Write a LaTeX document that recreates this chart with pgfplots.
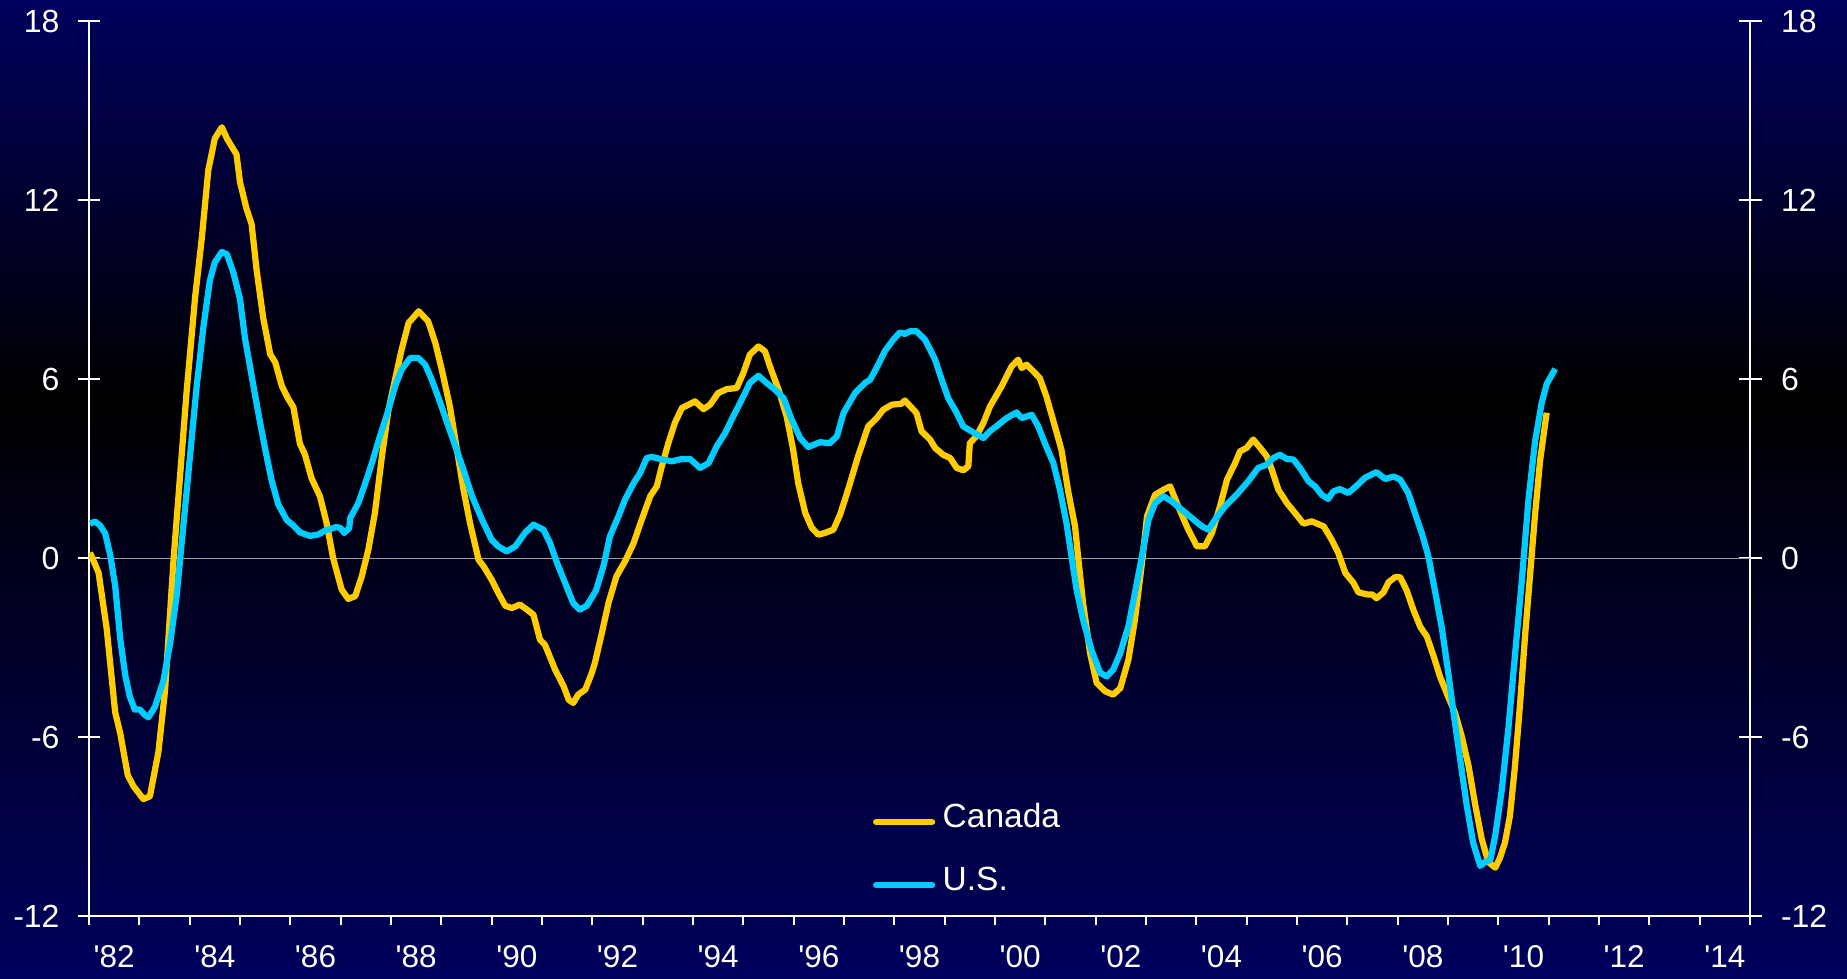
\documentclass[border=0pt]{standalone}
\usepackage{fontspec}
\setmainfont{Liberation Sans}[Ligatures=TeXOff]
\usepackage{pgfplots}
\pgfplotsset{compat=1.18}
\definecolor{navybg}{RGB}{0,0,94}
\definecolor{cangold}{RGB}{255,204,0}
\definecolor{uscyan}{RGB}{0,204,255}
\definecolor{zerogray}{RGB}{160,160,160}

\pgfplotstableread{
x y
1982.02 0.18
1982.19 -0.49
1982.35 -2.35
1982.52 -5.17
1982.62 -5.87
1982.77 -7.28
1982.88 -7.64
1983.08 -8.08
1983.21 -7.99
1983.38 -6.49
1983.51 -4.46
1983.68 -0.05
1983.81 2.77
1983.94 5.59
1984.11 8.77
1984.24 10.7
1984.37 13.0
1984.50 14.06
1984.64 14.44
1984.74 14.06
1984.93 13.53
1985.00 12.6
1985.13 11.7
1985.23 11.2
1985.33 9.65
1985.46 8.06
1985.60 6.83
1985.70 6.56
1985.83 5.77
1985.96 5.33
1986.06 5.06
1986.19 3.83
1986.29 3.47
1986.42 2.68
1986.59 2.06
1986.72 1.18
1986.85 0.0
1987.02 -1.06
1987.15 -1.37
1987.29 -1.28
1987.42 -0.61
1987.55 0.28
1987.68 1.51
1987.82 3.41
1987.95 4.97
1988.08 5.98
1988.21 6.98
1988.35 7.88
1988.55 8.27
1988.74 7.93
1988.88 7.21
1989.01 6.31
1989.17 5.08
1989.31 3.63
1989.44 2.29
1989.57 1.17
1989.74 -0.06
1989.84 -0.28
1990.00 -0.73
1990.13 -1.17
1990.27 -1.60
1990.40 -1.68
1990.56 -1.56
1990.70 -1.73
1990.83 -1.90
1990.96 -2.74
1991.06 -2.91
1991.26 -3.74
1991.43 -4.30
1991.53 -4.75
1991.62 -4.86
1991.72 -4.58
1991.86 -4.41
1991.99 -3.85
1992.05 -3.52
1992.19 -2.51
1992.32 -1.51
1992.48 -0.61
1992.65 -0.11
1992.82 0.50
1992.98 1.28
1993.15 2.07
1993.28 2.40
1993.38 3.07
1993.51 3.85
1993.64 4.53
1993.78 5.03
1993.91 5.14
1994.04 5.25
1994.21 4.99
1994.34 5.14
1994.50 5.53
1994.67 5.66
1994.87 5.70
1995.00 6.20
1995.13 6.82
1995.30 7.09
1995.43 6.93
1995.53 6.42
1995.70 5.64
1995.86 4.75
1995.99 3.63
1996.09 2.51
1996.23 1.51
1996.36 1.01
1996.49 0.78
1996.62 0.84
1996.79 0.95
1996.92 1.45
1997.02 1.96
1997.12 2.51
1997.28 3.41
1997.48 4.41
1997.65 4.69
1997.78 4.97
1997.95 5.14
1998.14 5.17
1998.21 5.28
1998.44 4.86
1998.54 4.25
1998.71 3.97
1998.81 3.69
1998.97 3.46
1999.11 3.35
1999.24 3.02
1999.37 2.94
1999.47 3.07
1999.50 3.85
1999.63 4.08
1999.77 4.53
1999.90 5.08
2000.13 5.75
2000.33 6.42
2000.46 6.65
2000.53 6.37
2000.63 6.48
2000.76 6.26
2000.89 6.03
2001.02 5.42
2001.19 4.41
2001.32 3.63
2001.46 2.18
2001.59 1.06
2001.65 0.06
2001.75 -1.51
2001.89 -3.2
2002.02 -4.19
2002.19 -4.47
2002.35 -4.58
2002.49 -4.36
2002.65 -3.41
2002.78 -2.07
2002.92 -0.17
2003.02 1.40
2003.18 2.12
2003.35 2.29
2003.48 2.40
2003.64 1.73
2003.81 1.06
2004.01 0.39
2004.17 0.39
2004.31 0.84
2004.47 1.73
2004.61 2.63
2004.77 3.18
2004.87 3.58
2005.00 3.69
2005.13 3.97
2005.27 3.69
2005.40 3.41
2005.50 2.96
2005.63 2.29
2005.80 1.84
2005.96 1.51
2006.13 1.15
2006.29 1.23
2006.53 1.06
2006.69 0.61
2006.82 0.17
2006.96 -0.50
2007.12 -0.83
2007.22 -1.15
2007.39 -1.22
2007.49 -1.22
2007.58 -1.35
2007.72 -1.15
2007.82 -0.81
2007.95 -0.64
2008.05 -0.64
2008.18 -1.09
2008.31 -1.73
2008.45 -2.31
2008.58 -2.63
2008.71 -3.27
2008.84 -3.97
2009.01 -4.68
2009.14 -5.19
2009.27 -5.96
2009.41 -6.98
2009.54 -8.27
2009.67 -9.42
2009.80 -10.19
2009.94 -10.38
2010.03 -10.06
2010.13 -9.55
2010.23 -8.65
2010.33 -6.98
2010.43 -4.93
2010.53 -2.63
2010.63 -0.58
2010.73 1.47
2010.83 3.27
2010.96 4.87
}\canada

\pgfplotstableread{
x y
1982.02 1.15
1982.12 1.22
1982.22 1.09
1982.32 0.83
1982.42 0.12
1982.52 -0.93
1982.62 -2.70
1982.72 -3.93
1982.81 -4.64
1982.91 -5.08
1983.01 -5.08
1983.11 -5.26
1983.18 -5.34
1983.31 -4.99
1983.48 -4.11
1983.61 -2.87
1983.74 -1.29
1983.87 1.0
1984.01 3.47
1984.14 5.77
1984.27 7.7
1984.40 9.29
1984.50 9.91
1984.64 10.26
1984.74 10.18
1984.87 9.56
1985.00 8.68
1985.10 7.35
1985.23 6.12
1985.36 4.89
1985.50 3.65
1985.63 2.59
1985.76 1.80
1985.93 1.27
1986.06 1.09
1986.19 0.86
1986.39 0.74
1986.56 0.79
1986.69 0.92
1986.92 1.04
1987.00 1.0
1987.07 0.84
1987.17 1.0
1987.19 1.34
1987.35 1.84
1987.49 2.51
1987.62 3.18
1987.78 4.08
1987.95 4.97
1988.08 5.75
1988.21 6.31
1988.38 6.70
1988.55 6.70
1988.68 6.48
1988.81 5.98
1988.98 5.20
1989.14 4.41
1989.28 3.74
1989.44 2.96
1989.61 2.07
1989.81 1.28
1990.00 0.61
1990.13 0.39
1990.30 0.22
1990.47 0.39
1990.66 0.84
1990.83 1.12
1991.03 0.95
1991.16 0.50
1991.30 -0.17
1991.46 -0.84
1991.62 -1.51
1991.75 -1.73
1991.89 -1.60
1992.07 -1.10
1992.22 -0.28
1992.35 0.73
1992.52 1.40
1992.65 1.96
1992.82 2.51
1992.95 2.85
1993.08 3.35
1993.18 3.39
1993.35 3.32
1993.58 3.24
1993.78 3.32
1993.94 3.32
1994.14 3.02
1994.31 3.18
1994.47 3.74
1994.64 4.19
1994.80 4.75
1994.97 5.31
1995.13 5.87
1995.30 6.11
1995.46 5.87
1995.63 5.64
1995.80 5.36
1995.96 4.64
1996.13 4.02
1996.29 3.72
1996.52 3.88
1996.72 3.85
1996.86 4.08
1996.99 4.86
1997.22 5.53
1997.42 5.87
1997.52 5.98
1997.68 6.48
1997.81 6.93
1997.98 7.32
1998.11 7.56
1998.21 7.51
1998.31 7.60
1998.44 7.60
1998.61 7.32
1998.81 6.65
1998.94 5.98
1999.07 5.36
1999.24 4.86
1999.37 4.41
1999.53 4.25
1999.77 4.02
1999.90 4.25
2000.07 4.47
2000.23 4.69
2000.43 4.88
2000.53 4.69
2000.73 4.80
2000.86 4.41
2000.99 3.85
2001.16 3.18
2001.29 2.29
2001.42 1.17
2001.52 0.06
2001.62 -1.06
2001.75 -2.07
2001.92 -3.10
2002.09 -3.85
2002.22 -3.97
2002.35 -3.74
2002.49 -3.18
2002.65 -2.29
2002.78 -1.17
2002.92 0.06
2003.05 1.28
2003.18 1.84
2003.35 2.07
2003.51 1.90
2003.71 1.62
2003.91 1.34
2004.11 1.06
2004.24 0.95
2004.37 1.28
2004.57 1.73
2004.80 2.12
2005.03 2.57
2005.23 3.02
2005.40 3.13
2005.53 3.35
2005.66 3.46
2005.80 3.32
2005.93 3.30
2006.06 3.02
2006.23 2.57
2006.36 2.40
2006.49 2.12
2006.62 1.98
2006.72 2.23
2006.85 2.31
2007.02 2.18
2007.19 2.43
2007.35 2.69
2007.58 2.88
2007.75 2.65
2007.92 2.73
2008.05 2.63
2008.21 2.18
2008.35 1.47
2008.48 0.83
2008.61 0.06
2008.74 -1.09
2008.88 -2.37
2009.01 -3.91
2009.11 -5.19
2009.24 -6.73
2009.37 -8.27
2009.50 -9.55
2009.64 -10.32
2009.74 -10.19
2009.84 -10.12
2009.94 -9.29
2010.07 -7.75
2010.20 -5.70
2010.33 -3.27
2010.47 -0.70
2010.60 1.99
2010.73 3.91
2010.86 5.19
2010.96 5.83
2011.13 6.34
}\us

\begin{document}
\begin{tikzpicture}
\path[use as bounding box] (-35.6pt,-24.8pt) rectangle (703.2pt,366.4pt);
\shade[top color=black,bottom color=navybg] (-35.6pt,-24.8pt) rectangle (703.2pt,206.5pt);
\shade[top color=navybg,bottom color=black] (-35.6pt,206.3pt) rectangle (703.2pt,366.4pt);

% x ticks and labels
\begin{axis}[
  at={(0,0)}, anchor=south west,
  scale only axis, width=664.4pt, height=358pt,
  xmin=1982, xmax=2015, ymin=-12, ymax=18,
  axis y line=none, axis x line*=bottom,
  axis line style={white, line width=0.8pt},
  xtick={1982,...,2015}, xticklabels={},
  tick align=outside, major tick length=3.6pt,
  tick style={white, line width=0.8pt},
  extra x ticks={1982.5,1984.5,...,2014.5},
  extra x tick labels={'82,'84,'86,'88,'90,'92,'94,'96,'98,'00,'02,'04,'06,'08,'10,'12,'14},
  extra x tick style={major tick length=0pt, tick style={draw=none}},
  xticklabel style={font=\fontsize{12.6}{15}\selectfont, text=white, anchor=north, inner sep=0pt, yshift=-11.6pt},
]
\end{axis}

% right y axis
\begin{axis}[
  at={(0,0)}, anchor=south west,
  scale only axis, width=664.4pt, height=358pt,
  xmin=1982, xmax=2015, ymin=-12, ymax=18,
  axis x line=none, axis y line*=right,
  axis line style={white, line width=0.8pt},
  ytick={-12,-6,0,6,12,18}, yticklabels={-12,-6,0,6,12,18},
  tick align=center, major tick length=9.2pt,
  tick style={white, line width=0.8pt},
  yticklabel style={font=\fontsize{12.8}{15}\selectfont, text=white, anchor=west, inner sep=0pt, xshift=7.6pt},
]
\end{axis}

% main axis
\begin{axis}[
  at={(0,0)}, anchor=south west,
  scale only axis, width=664.4pt, height=358pt,
  xmin=1982, xmax=2015, ymin=-12, ymax=18,
  axis x line*=bottom, axis y line*=left,
  axis line style={white, line width=0.8pt},
  xtick=\empty,
  ytick={-12,-6,0,6,12,18}, yticklabels={-12,-6,0,6,12,18},
  tick align=center, major tick length=9.2pt,
  tick style={white, line width=0.8pt},
  yticklabel style={font=\fontsize{12.8}{15}\selectfont, text=white, anchor=east, inner sep=0pt, xshift=-7pt},
  legend style={at={(axis description cs:0.472,0.0698)}, anchor=west, draw=none, fill=none,
    inner sep=0pt, outer sep=0pt, row sep=15.2pt, column sep=3pt,
    font=\fontsize{13.4}{16}\selectfont, text=white,
    nodes={inner sep=0pt, text height=0.72em, text depth=0.28em}},
  legend cell align=left,
  legend image code/.code={\draw[#1, line cap=round] (1.2pt,0pt) -- (23.6pt,0pt);},
]
\addplot[zerogray, line width=0.4pt, forget plot] coordinates {(1982,0) (2015,0)};
\addplot[cangold, line width=2.5pt, line join=round] table[x=x,y=y] {\canada};
\addlegendentry{Canada}
\addplot[uscyan, line width=2.5pt, line join=round] table[x=x,y=y] {\us};
\addlegendentry{U.S.}
\end{axis}
\end{tikzpicture}
\end{document}
